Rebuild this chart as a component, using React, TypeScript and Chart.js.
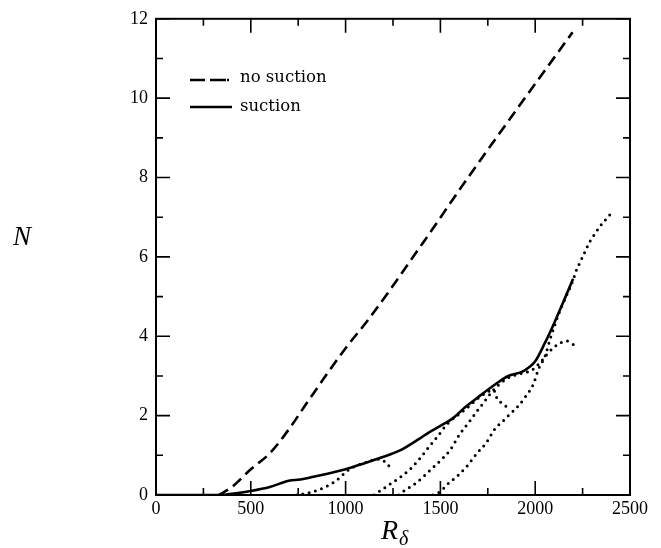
import { useEffect, useRef } from "react";
import { Chart, registerables } from "chart.js";

Chart.register(...registerables);

// Amplification factor N against Reynolds number R_delta
const noSuctionR = [330, 400, 500, 600, 700, 800, 1000, 1120, 1400, 1640, 1900, 2197];
const noSuctionN = [0, 0.2, 0.65, 1.05, 1.65, 2.35, 3.7, 4.42, 6.3, 7.96, 9.7, 11.66];

const suctionR = [0, 330, 400, 500, 600, 700, 760, 830, 1000, 1100, 1180, 1290, 1390, 1440, 1500, 1570, 1630, 1700, 1790, 1850, 1940, 2000, 2050, 2100, 2150, 2200];
const suctionN = [0, 0, 0.03, 0.1, 0.2, 0.36, 0.39, 0.46, 0.65, 0.8, 0.93, 1.13, 1.42, 1.58, 1.74, 1.95, 2.21, 2.47, 2.79, 2.98, 3.13, 3.37, 3.82, 4.33, 4.88, 5.45];

// Individual frequency envelopes (dotted)
const branchAR = [740, 812, 865, 900, 935, 970, 1006, 1050, 1100, 1150, 1185, 1215, 1240];
const branchAN = [0, 0.06, 0.14, 0.22, 0.31, 0.44, 0.6, 0.72, 0.81, 0.89, 0.9, 0.8, 0.67];

const branchBR = [1150, 1181, 1252, 1296, 1340, 1384, 1436, 1489, 1524, 1551, 1600, 1650, 1700, 1760, 1780, 1800, 1830, 1850];
const branchBN = [0, 0.1, 0.33, 0.475, 0.65, 0.875, 1.19, 1.5, 1.72, 1.86, 2.04, 2.23, 2.44, 2.62, 2.65, 2.42, 2.3, 2.22];

const branchCR = [1280, 1313, 1357, 1410, 1463, 1507, 1551, 1603, 1630, 1656, 1691, 1735, 1775, 1850, 1940, 1973, 2008, 2034, 2061, 2096, 2131, 2166, 2205];
const branchCN = [0, 0.12, 0.25, 0.46, 0.7, 0.9, 1.13, 1.54, 1.71, 1.87, 2.1, 2.37, 2.62, 2.93, 3.08, 3.12, 3.25, 3.38, 3.54, 3.71, 3.83, 3.88, 3.78];

const branchDR = [1460, 1498, 1542, 1594, 1639, 1691, 1744, 1788, 1823, 1859, 1912, 1946, 1990, 2017, 2052, 2078, 2104, 2122, 2160, 2200, 2218, 2236, 2254, 2271, 2292, 2315, 2342, 2368, 2394];
const branchDN = [0, 0.08, 0.29, 0.5, 0.72, 1.04, 1.33, 1.67, 1.83, 2.0, 2.25, 2.46, 2.79, 3.17, 3.5, 3.92, 4.29, 4.54, 4.97, 5.42, 5.67, 5.86, 6.04, 6.22, 6.42, 6.58, 6.77, 6.92, 7.06];

const xMajorTicks = [0, 500, 1000, 1500, 2000, 2500];
const xMinorTicks = [250, 750, 1250, 1750, 2250];
const yMajorTicks = [0, 2, 4, 6, 8, 10, 12];
const yMinorTicks = [1, 3, 5, 7, 9, 11];

const legendLabels = ["no suction", "suction"];

const toPoints = (xs: number[], ys: number[]) => xs.map((x, i) => ({ x, y: ys[i] }));

const dotted = (xs: number[], ys: number[]) => ({
  data: toPoints(xs, ys),
  borderColor: "#000",
  borderWidth: 3,
  borderDash: [0, 6.5],
  borderCapStyle: "round" as const,
  pointRadius: 0,
  cubicInterpolationMode: "monotone" as const,
});

const framePlugin = {
  id: "frameTicksLegend",
  afterDatasetsDraw(chart: any) {
    const { ctx, chartArea: a, scales } = chart;
    const xs = scales.x;
    const ys = scales.y;
    ctx.save();
    ctx.strokeStyle = "#000";
    ctx.lineWidth = 2;
    ctx.strokeRect(a.left, a.top, a.right - a.left, a.bottom - a.top);

    ctx.lineWidth = 1.6;
    const major = 14;
    const minor = 7;
    ctx.beginPath();
    const xTick = (v: number, len: number) => {
      const px = xs.getPixelForValue(v);
      ctx.moveTo(px, a.bottom);
      ctx.lineTo(px, a.bottom - len);
      ctx.moveTo(px, a.top);
      ctx.lineTo(px, a.top + len);
    };
    const yTick = (v: number, len: number) => {
      const py = ys.getPixelForValue(v);
      ctx.moveTo(a.left, py);
      ctx.lineTo(a.left + len, py);
      ctx.moveTo(a.right, py);
      ctx.lineTo(a.right - len, py);
    };
    xMajorTicks.forEach((v) => xTick(v, major));
    xMinorTicks.forEach((v) => xTick(v, minor));
    yMajorTicks.forEach((v) => yTick(v, major));
    yMinorTicks.forEach((v) => yTick(v, minor));
    ctx.stroke();

    // legend
    ctx.lineWidth = 2.6;
    ctx.lineCap = "butt";
    ctx.beginPath();
    ctx.moveTo(190, 80);
    ctx.lineTo(205, 80);
    ctx.moveTo(210, 80);
    ctx.lineTo(226, 80);
    ctx.moveTo(227, 80);
    ctx.lineTo(229, 80);
    ctx.stroke();
    ctx.beginPath();
    ctx.moveTo(190, 107);
    ctx.lineTo(232, 107);
    ctx.stroke();

    ctx.fillStyle = "#000";
    ctx.font = "16.5px 'DejaVu Serif'";
    ctx.textAlign = "left";
    ctx.textBaseline = "alphabetic";
    ctx.fillText(legendLabels[0], 240, 82);
    ctx.fillText(legendLabels[1], 240, 111);

    // axis titles
    ctx.font = "italic 27px 'Liberation Serif'";
    ctx.fillText("N", 13, 245);
    ctx.font = "italic 28px 'Liberation Serif'";
    ctx.fillText("R", 381, 539);
    ctx.font = "italic 20px 'Liberation Serif'";
    ctx.fillText("δ", 399, 545);
    ctx.restore();
  },
};

export default function App() {
  const canvasRef = useRef<HTMLCanvasElement>(null);

  useEffect(() => {
    const canvas = canvasRef.current;
    if (!canvas) return;
    const chart = new Chart(canvas, {
      type: "line",
      data: {
        datasets: [
          {
            data: toPoints(noSuctionR, noSuctionN),
            borderColor: "#000",
            borderWidth: 2.6,
            borderDash: [11, 6],
            pointRadius: 0,
            cubicInterpolationMode: "monotone",
          },
          {
            data: toPoints(suctionR, suctionN),
            borderColor: "#000",
            borderWidth: 2.6,
            pointRadius: 0,
            cubicInterpolationMode: "monotone",
          },
          dotted(branchAR, branchAN),
          dotted(branchBR, branchBN),
          dotted(branchCR, branchCN),
          dotted(branchDR, branchDN),
        ],
      },
      options: {
        responsive: false,
        animation: false,
        devicePixelRatio: 1,
        layout: { padding: { top: 15, right: 31, left: 0, bottom: 0 } },
        plugins: { legend: { display: false }, tooltip: { enabled: false } },
        scales: {
          x: {
            type: "linear",
            min: 0,
            max: 2500,
            afterFit: (s: any) => {
              s.height = 53;
            },
            afterBuildTicks: (s: any) => {
              s.ticks = xMajorTicks.map((v) => ({ value: v }));
            },
            grid: { display: false, drawTicks: false },
            border: { display: false },
            ticks: {
              padding: 3,
              maxRotation: 0,
              color: "#000",
              font: { family: "'Liberation Serif'", size: 18 },
              callback: (v: any) => String(v),
            },
          },
          y: {
            type: "linear",
            min: 0,
            max: 12,
            afterFit: (s: any) => {
              s.width = 156;
            },
            afterBuildTicks: (s: any) => {
              s.ticks = yMajorTicks.map((v) => ({ value: v }));
            },
            grid: { display: false, drawTicks: false },
            border: { display: false },
            ticks: {
              padding: 8,
              color: "#000",
              font: { family: "'Liberation Serif'", size: 18 },
              callback: (v: any) => String(v),
            },
          },
        },
      },
      plugins: [framePlugin],
    });
    return () => chart.destroy();
  }, []);

  return (
    <div style={{ position: "absolute", left: 0, top: 0, width: 661, height: 548, background: "#fff" }}>
      <canvas ref={canvasRef} width={661} height={548} style={{ display: "block", width: 661, height: 548 }} />
    </div>
  );
}
